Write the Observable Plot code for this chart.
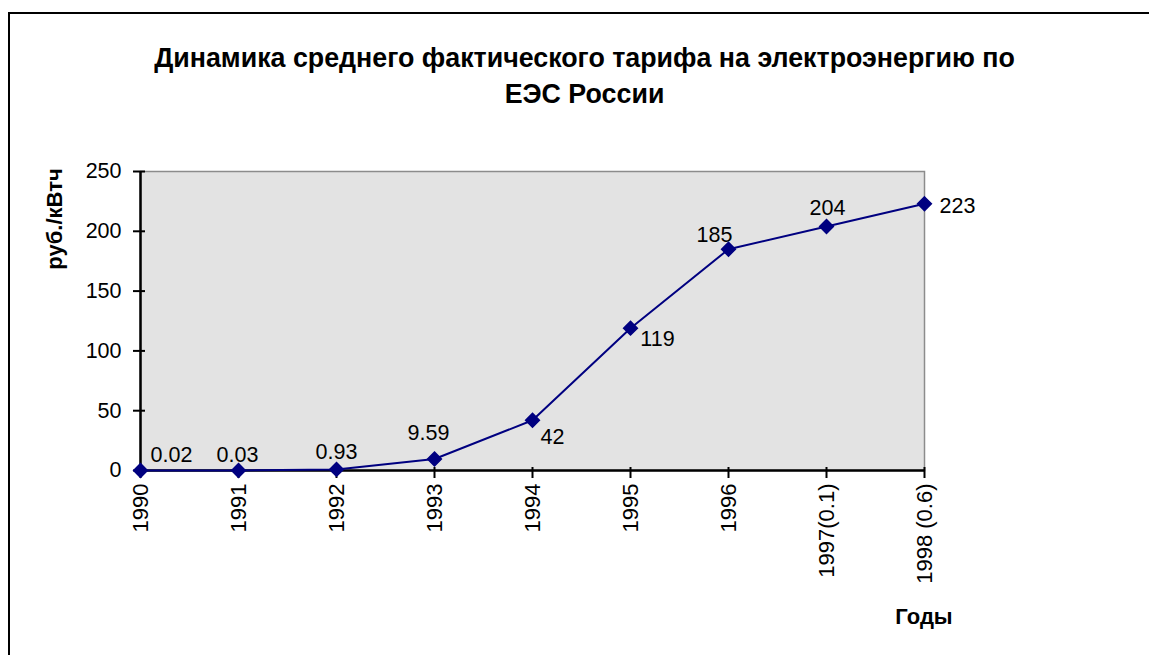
<!DOCTYPE html>
<html>
<head>
<meta charset="utf-8">
<script src="https://cdn.jsdelivr.net/npm/d3@7"></script>
<script src="https://cdn.jsdelivr.net/npm/@observablehq/plot@0.6"></script>
<style>
  html, body { margin: 0; padding: 0; background: #fff; }
  body { width: 1149px; height: 655px; overflow: hidden; position: relative; font-family: "Liberation Sans", Arial, sans-serif; }
  #border { position: absolute; left: 8px; top: 12px; width: 1160px; height: 700px; border: 2px solid #000; box-sizing: border-box; }
  #title { position: absolute; left: 0; width: 1169px; top: 40px; text-align: center; font-weight: bold; font-size: 26.8px; line-height: 36px; color: #000; }
  #chart { position: absolute; left: 0; top: 0; }
  #ylab { position: absolute; left: 55px; top: 219px; transform: translate(-50%, -50%) rotate(-90deg); font-weight: bold; font-size: 22px; white-space: nowrap; }
  #xlab { position: absolute; left: 924px; top: 604px; transform: translateX(-50%); font-weight: bold; font-size: 22px; }
</style>
</head>
<body>
<div id="border"></div>
<div id="chart"></div>
<div id="title">Динамика среднего фактического тарифа на электроэнергию по<br>ЕЭС России</div>
<div id="ylab">руб./кВтч</div>
<div id="xlab">Годы</div>
<script>
// Data
const years = ["1990", "1991", "1992", "1993", "1994", "1995", "1996", "1997(0.1)", "1998 (0.6)"];
const tariffs = [0.02, 0.03, 0.93, 9.59, 42, 119, 185, 204, 223];
const labels = ["0.02", "0.03", "0.93", "9.59", "42", "119", "185", "204", "223"];
const yTicks = [0, 50, 100, 150, 200, 250];

// Label placement (styling, not data)
const labelNudgeX = [31, -1, 0, -6, 20, 27, -14, 1, 33];
const labelNudgeY = [-15, -15, -17, -26, 17, 11, -14, -18, 2];

const rows = years.map((y, i) => ({year: y, value: tariffs[i], label: labels[i], dx: labelNudgeX[i], dy: labelNudgeY[i]}));

const font = "Liberation Sans, Arial, sans-serif";
const chart = Plot.plot({
  width: 1149,
  height: 655,
  marginLeft: 140,
  marginRight: 225,
  marginTop: 171,
  marginBottom: 185,
  style: {fontFamily: font, fontSize: "21px", color: "#000", background: "transparent"},
  x: {type: "point", domain: years, padding: 0, axis: null},
  y: {domain: [0, 250], axis: null},
  marks: [
    Plot.frame({fill: "#e3e3e3", stroke: "#8c8c8c", strokeWidth: 1.5}),
    Plot.ruleY([0], {stroke: "#000", strokeWidth: 2.5}),
    Plot.ruleX([years[0]], {stroke: "#000", strokeWidth: 2.5}),
    Plot.axisY({ticks: yTicks, tickSize: 7, tickPadding: 12, tickFormat: d => String(d), label: null, fontSize: 21.5, strokeWidth: 2}),
    Plot.ruleY(yTicks, {y: d => d, x1: () => years[0], x2: () => years[0], insetRight: -5, stroke: "#000", strokeWidth: 2}),
    Plot.axisX({tickRotate: -90, tickSize: 8, tickPadding: 5, label: null, fontSize: 22, strokeWidth: 2}),
    Plot.ruleX(years, {x: d => d, y1: () => 0, y2: () => 0, insetTop: -3, stroke: "#000", strokeWidth: 2}),
    Plot.line(rows, {x: "year", y: "value", stroke: "#000080", strokeWidth: 2}),
    Plot.dot(rows, {x: "year", y: "value", symbol: "diamond2", r: 6.2, fill: "#000080", stroke: "#000080"}),
    ...rows.map(r => Plot.text([r], {x: "year", y: "value", text: "label", dx: r.dx, dy: r.dy, fontSize: 21.5, fill: "#000"}))
  ]
});
document.getElementById("chart").appendChild(chart);
</script>
</body>
</html>
